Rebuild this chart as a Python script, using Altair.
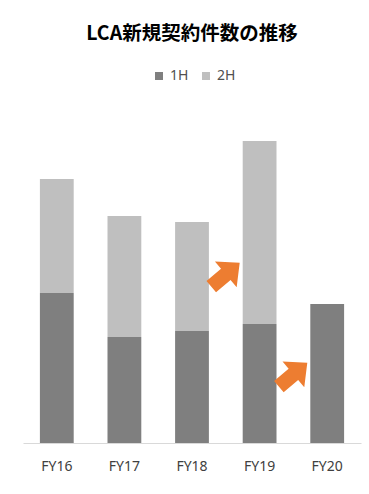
import altair as alt
import pandas as pd

years = ["FY16", "FY17", "FY18", "FY19", "FY20"]
h1_values = [150, 106, 112, 119, 139]
h2_values = [114, 121, 109, 183, None]
series = ["1H", "2H"]
colors = ["#7f7f7f", "#bfbfbf"]

rows = []
for y, a, b in zip(years, h1_values, h2_values):
    rows.append({"year": y, "series": "1H", "order": 0, "value": a})
    if b is not None:
        rows.append({"year": y, "series": "2H", "order": 1, "value": b})
df = pd.DataFrame(rows)

arrow_from = ["FY18", "FY19"]
arrow_level = [167, 67]
arrows = pd.DataFrame({"year": arrow_from, "level": arrow_level})

ARROW = "M0,-1L0.82,-0.12L0.36,-0.12L0.36,0.8L-0.36,0.8L-0.36,-0.12L-0.82,-0.12Z"

x_enc = alt.X("year:N", sort=years,
              scale=alt.Scale(paddingInner=0.5, paddingOuter=0.25),
              axis=alt.Axis(title=None, labelAngle=0, ticks=False,
                            domainColor="#d9d9d9", labelColor="#404040",
                            labelFontSize=14, labelFont="Noto Sans",
                            labelPadding=16))

bars = alt.Chart(df).mark_bar().encode(
    x=x_enc,
    y=alt.Y("value:Q", stack="zero",
            scale=alt.Scale(domain=[0, 302], nice=False),
            axis=None),
    color=alt.Color("series:N", sort=series,
                    scale=alt.Scale(domain=series, range=colors),
                    legend=alt.Legend(title=None, orient="none", direction="horizontal",
                                      legendX=129, legendY=-72,
                                      symbolType="square", symbolSize=64,
                                      labelFontSize=14, labelFont="Noto Sans",
                                      labelColor="#505050", columnPadding=10,
                                      labelOffset=4,
                                      symbolStrokeWidth=0, padding=0)),
    order=alt.Order("order:Q", sort="ascending"),
)

arrow_layer = alt.Chart(arrows).mark_point(
    shape=ARROW, size=1700, filled=True, color="#ed7d31", opacity=1,
    angle=50, xOffset=15, strokeWidth=0
).encode(
    x=alt.X("year:N", sort=years, bandPosition=1),
    y=alt.Y("level:Q"),
)

chart = alt.layer(bars, arrow_layer).properties(
    width=338, height=302,
    title=alt.TitleParams("LCA新規契約件数の推移", font="Noto Sans CJK JP",
                          fontSize=19.5, fontWeight="bold", color="#000000",
                          anchor="middle", offset=25),
    autosize=alt.AutoSizeParams(type="none"),
    padding={"left": 23, "top": 141, "right": 8, "bottom": 51},
).configure(background="white").configure_view(stroke=None)

chart.save("out.html", embed_options={"renderer": "svg", "actions": False})
